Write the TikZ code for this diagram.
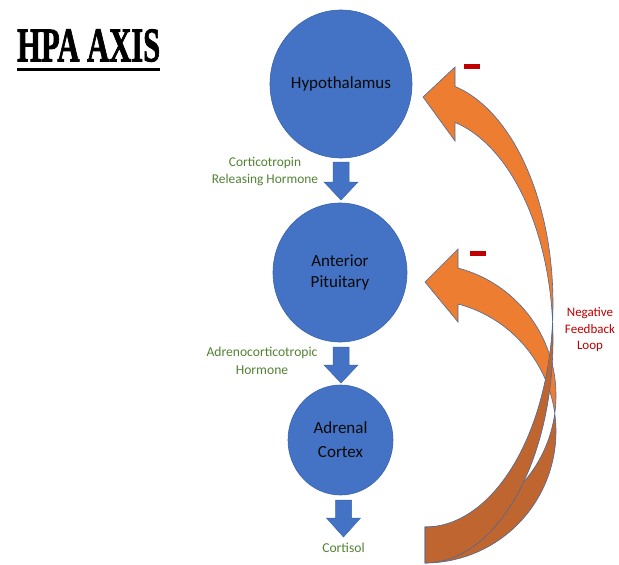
\documentclass[tikz,border=0pt]{standalone}
\usepackage{graphicx}
\usepackage{fontspec}
\setmainfont{Carlito}
\newfontfamily\titlefont[FakeBold=2]{Liberation Serif Bold}
\usetikzlibrary{shapes.geometric}
\definecolor{cblue}{HTML}{4472C4}
\definecolor{cedge}{HTML}{3B64AD}
\definecolor{corange}{HTML}{ED7D31}
\definecolor{cdark}{HTML}{BF6530}
\definecolor{cline}{HTML}{4A6A9A}
\definecolor{cgreen}{HTML}{548235}
\definecolor{cred}{HTML}{C00000}
\definecolor{ctext}{HTML}{0A0A0A}
\begin{document}
\begin{tikzpicture}[x=1pt,y=-1pt,
  organ/.style={ellipse, fill=cblue, draw=cedge, line width=0.6pt, inner sep=0pt,
    text=ctext, align=center},
  hormone/.style={text=cgreen, align=center, inner sep=0pt},
  feedback/.style={text=cred, align=center, inner sep=0pt},
  blockarrow/.style={fill=cblue, draw=cedge, line width=0.5pt, line join=miter},
  ribbonlight/.style={fill=corange, draw=cline, line width=0.6pt, line join=miter},
  ribbondark/.style={fill=cdark, draw=cline, line width=0.6pt, line join=miter},
  minusbar/.style={fill=cred, inner sep=0pt, minimum width=16pt, minimum height=5pt}]

\useasboundingbox (0,0) rectangle (619,565);
\fill[white] (0,0) rectangle (619,565);

% title
\node[anchor=south west, inner sep=0pt] (title) at (17,62)
  {\resizebox{143pt}{32pt}{\titlefont HPA AXIS}};
\fill[black] (17,67.5) rectangle (160,71);

% organs
\node[organ, minimum width=142pt, minimum height=148pt,
  font=\fontsize{17}{20}\selectfont] (hyp) at (341,84) {Hypothalamus};
\node[organ, minimum width=134pt, minimum height=139pt,
  font=\fontsize{17}{20.5}\selectfont] (pit) at (340,272.5) {Anterior\\Pituitary};
\node[organ, minimum width=105pt, minimum height=110pt,
  font=\fontsize{17}{24}\selectfont] (adr) at (340.5,440) {Adrenal\\Cortex};

% block arrows
\draw[blockarrow] (333,162) -- (349,162) -- (349,182) -- (358,182) -- (341,200)
  -- (324,182) -- (333,182) -- cycle;
\draw[blockarrow] (333,347) -- (349,347) -- (349,365) -- (358,365) -- (341,383)
  -- (324,365) -- (333,365) -- cycle;
\draw[blockarrow] (335.5,500) -- (351.5,500) -- (351.5,518) -- (360.5,518) -- (343.5,537)
  -- (326.5,518) -- (335.5,518) -- cycle;

% labels
\node[hormone, font=\fontsize{13.4}{17}\selectfont] (crh) at (265,172)
  {Corticotropin\\Releasing Hormone};
\node[hormone, font=\fontsize{13.6}{18}\selectfont] (acth) at (262,361)
  {Adrenocorticotropic\\Hormone};
\node[hormone, font=\fontsize{13.6}{16}\selectfont] (cort) at (343.5,548) {Cortisol};
\node[feedback, font=\fontsize{13}{16.5}\selectfont] (nfl) at (590,330)
  {Negative\\Feedback\\Loop};

% lower feedback ribbon (to pituitary)
\filldraw[ribbondark]
  plot[domain=7.86:-90, samples=60, variable=\t] ({425+131*cos(\t)},{431.4-131.6*sin(\t)})
  -- plot[domain=-90:-7.86, samples=60, variable=\t] ({425+131*cos(\t)},{395.4-131.6*sin(\t)})
  -- cycle;
\filldraw[ribbonlight] (425,282) -- (458,249) -- (458,268.05)
  -- plot[domain=75.41:-7.86, samples=60, variable=\t] ({425+131*cos(\t)},{395.4-131.6*sin(\t)})
  -- plot[domain=7.86:75.41, samples=60, variable=\t] ({425+131*cos(\t)},{431.4-131.6*sin(\t)})
  -- (458,322) -- cycle;

% upper feedback ribbon (to hypothalamus)
\filldraw[ribbondark]
  plot[domain=4.62:-90, samples=80, variable=\t] ({425+128*cos(\t)},{339.6-223.4*sin(\t)})
  -- plot[domain=-90:-4.62, samples=80, variable=\t] ({425+128*cos(\t)},{303.6-223.4*sin(\t)})
  -- cycle;
\filldraw[ribbonlight] (423,97) -- (455,67) -- (455,86.4)
  -- plot[domain=76.45:-4.62, samples=80, variable=\t] ({425+128*cos(\t)},{303.6-223.4*sin(\t)})
  -- plot[domain=4.62:76.45, samples=80, variable=\t] ({425+128*cos(\t)},{339.6-223.4*sin(\t)})
  -- (455,141) -- cycle;

% minus signs
\node[minusbar] (minusA) at (472,66.5) {};
\node[minusbar] (minusB) at (478,253.5) {};
\end{tikzpicture}
\end{document}
